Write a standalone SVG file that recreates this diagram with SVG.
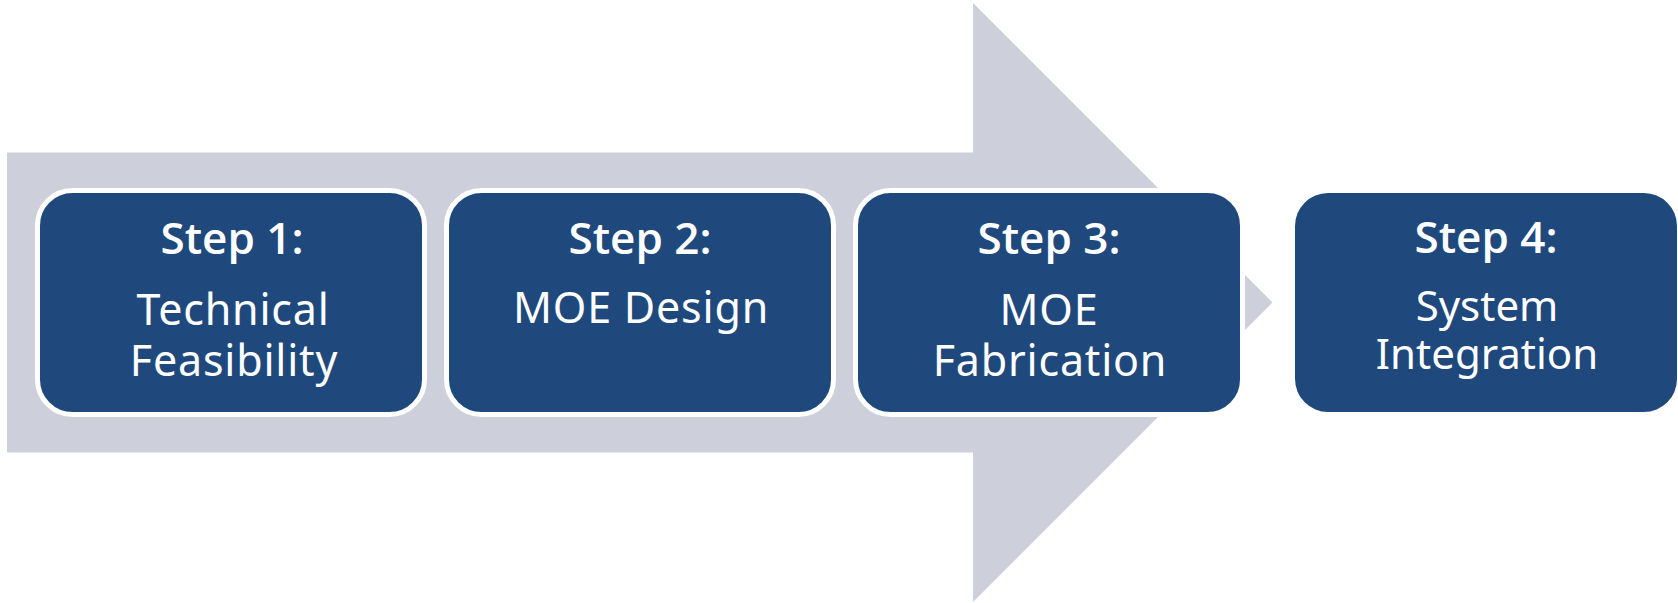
<svg xmlns="http://www.w3.org/2000/svg" width="1678" height="603" viewBox="0 0 1678 603">
  <style>
    .step { fill: #1F497D; stroke: #FFFFFF; stroke-width: 5; }
    .last { fill: #1F497D; }
    .title { font-family: "Open Sans", "Noto Sans", sans-serif; font-weight: 600; font-size: 44px; fill: #FFFFFF; text-anchor: middle; }
    .body { font-family: "Noto Sans", "Open Sans", sans-serif; font-weight: 400; font-size: 43px; letter-spacing: 0.8px; fill: #FFFFFF; text-anchor: middle; }
    .small { font-size: 42px; letter-spacing: 0; }
  </style>

  <rect width="1678" height="603" fill="#FFFFFF"/>

  <!-- background process arrow -->
  <g id="connectors">
    <polygon points="7,152.5 973,152.5 973,3 1272.5,302.5 973,602 973,452.5 7,452.5" fill="#CDD0DA"/>
  </g>

  <g id="step1">
    <rect class="step" x="37.5" y="190.5" width="387" height="224" rx="35"/>
    <text class="title" x="232" y="254">Step 1:</text>
    <text class="body"><tspan x="233" y="325">Technical</tspan><tspan x="234" y="376">Feasibility</tspan></text>
  </g>

  <g id="step2">
    <rect class="step" x="446.5" y="190.5" width="387" height="224" rx="35"/>
    <text class="title" x="640" y="254">Step 2:</text>
    <text class="body" x="641" y="323">MOE Design</text>
  </g>

  <g id="step3">
    <rect class="step" x="855.5" y="190.5" width="387" height="224" rx="35"/>
    <text class="title" x="1049" y="254">Step 3:</text>
    <text class="body"><tspan x="1049" y="325">MOE</tspan><tspan x="1050" y="376">Fabrication</tspan></text>
  </g>

  <g id="step4">
    <rect class="last" x="1295" y="193" width="382" height="219" rx="33"/>
    <text class="title" x="1486" y="253">Step 4:</text>
    <text class="body small"><tspan x="1487" y="321">System</tspan><tspan x="1487" y="369">Integration</tspan></text>
  </g>
</svg>
